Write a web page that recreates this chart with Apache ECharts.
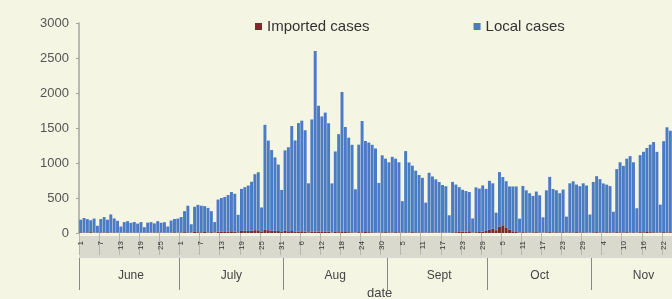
<!DOCTYPE html>
<html><head><meta charset="utf-8">
<script src="https://cdn.jsdelivr.net/npm/echarts@6/dist/echarts.min.js"></script>
<style>html,body{margin:0;padding:0;background:#f5f5e4;}#c{width:672px;height:299px;}</style>
</head><body><div id="c"></div>
<script>
const monthNames = ['June','July','Aug','Sept','Oct','Nov'];
const monthFullDays = [30,31,31,30,31,30];
const monthShownDays = [30,31,31,30,31,24];
const yTicks = [0,500,1000,1500,2000,2500,3000];

const importedCases = [
10,5,8,12,6,3,9,7,10,5,8,4,3,6,9,5,7,4,6,3,8,5,7,9,6,4,3,8,10,6,
8,12,10,5,15,12,10,14,9,12,6,18,20,15,22,25,20,10,30,35,28,32,40,38,15,45,40,35,30,28,15,
30,25,28,22,20,25,18,10,22,20,18,15,20,18,8,15,12,15,14,12,10,5,12,10,14,12,10,8,5,10,12,
10,8,12,10,5,10,8,12,10,9,8,4,10,8,7,9,6,8,3,10,12,15,18,20,25,8,12,15,20,30,
45,60,40,90,100,80,45,25,15,5,12,10,8,10,12,9,4,10,12,8,10,9,11,4,10,8,12,9,10,8,4,
10,12,9,8,11,10,4,12,10,9,12,8,10,4,12,10,14,12,10,9,5,12,10,11
];
const localCases = [
180,210,190,170,200,100,190,220,180,260,200,170,90,150,160,140,150,130,150,80,140,150,130,160,140,150,90,170,190,200,
220,300,380,120,360,390,380,370,350,300,150,460,480,500,520,560,540,250,600,620,650,700,800,830,350,1500,1280,1150,1050,950,600,
1150,1200,1500,1300,1550,1580,1450,700,1600,2580,1800,1650,1700,1550,700,1150,1400,2000,1500,1350,1250,620,1250,1590,1300,1280,1250,1200,710,1100,1050,
1000,1080,1050,1000,450,1160,1000,950,880,820,780,430,850,800,760,720,680,660,250,720,680,640,600,580,560,200,640,620,660,600,
700,650,250,780,700,660,620,640,650,200,660,600,560,520,580,530,220,600,790,620,600,560,610,230,700,730,680,660,700,670,260,
720,800,760,700,680,660,300,900,1000,950,1050,1090,1000,350,1100,1150,1200,1250,1290,1150,400,1300,1500,1450
];

const categories = [];
const monthStart = [];
const monthMid = [];
monthNames.forEach((m, i) => {
  monthStart.push(categories.length);
  monthMid.push(categories.length + Math.floor(monthFullDays[i] / 2));
  for (let d = 1; d <= monthShownDays[i]; d++) categories.push(m + ' ' + d);
});

const G = {left: 79, right: 0, top: 23, bottom: 66};
const chart = echarts.init(document.getElementById('c'));
const font = 'Liberation Sans, Arial, sans-serif';
chart.setOption({
  backgroundColor: '#f5f5e4',
  animation: false,
  grid: G,
  legend: {
    left: 250, top: 14, itemGap: 104, itemWidth: 7, itemHeight: 7, icon: 'rect',
    textStyle: {fontFamily: font, fontSize: 15, color: '#333'},
    data: ['Imported cases', 'Local cases']
  },
  graphic: [
    {type: 'rect', z: -1, shape: {x: G.left, y: 236, width: 672 - G.left, height: 22},
     style: {fill: '#d9d9cd'}},
    {type: 'text', left: 367, top: 287, style: {text: 'date', font: '13px ' + font, fill: '#444'}}
  ],
  xAxis: [
    {type: 'category', data: categories, position: 'bottom', offset: 3,
     axisLine: {show: false},
     axisTick: {show: true, interval: 5, length: 22, lineStyle: {color: '#b8b8aa'}},
     axisLabel: {interval: 5, rotate: 90, fontSize: 8, color: '#333', margin: 5, fontFamily: font,
       formatter: v => v.split(' ')[1]}
    },
    {type: 'category', data: categories, position: 'bottom', offset: 25,
     axisLine: {show: false},
     axisTick: {show: true, length: 32, interval: (i) => monthStart.includes(i), lineStyle: {color: '#888'}},
     axisLabel: {interval: (i) => monthMid.includes(i), fontSize: 12, color: '#444', margin: 12, fontFamily: font,
       formatter: v => v.split(' ')[0]}
    }
  ],
  yAxis: {
    type: 'value', min: yTicks[0], max: yTicks[yTicks.length - 1], interval: yTicks[1] - yTicks[0],
    axisLine: {show: true, lineStyle: {color: '#a5a5a0', width: 1.5}},
    axisTick: {show: true, length: 3, lineStyle: {color: '#a5a5a0'}},
    axisLabel: {fontSize: 13, color: '#555', margin: 10, fontFamily: font, formatter: v => String(v)},
    splitLine: {show: false}
  },
  series: [
    {name: 'Imported cases', type: 'bar', stack: 'all', data: importedCases, barCategoryGap: '12%',
     itemStyle: {color: '#7a2a2a'}},
    {name: 'Local cases', type: 'bar', stack: 'all', data: localCases, barCategoryGap: '12%',
     itemStyle: {color: '#4a7bc4'}}
  ]
});
</script></body></html>
